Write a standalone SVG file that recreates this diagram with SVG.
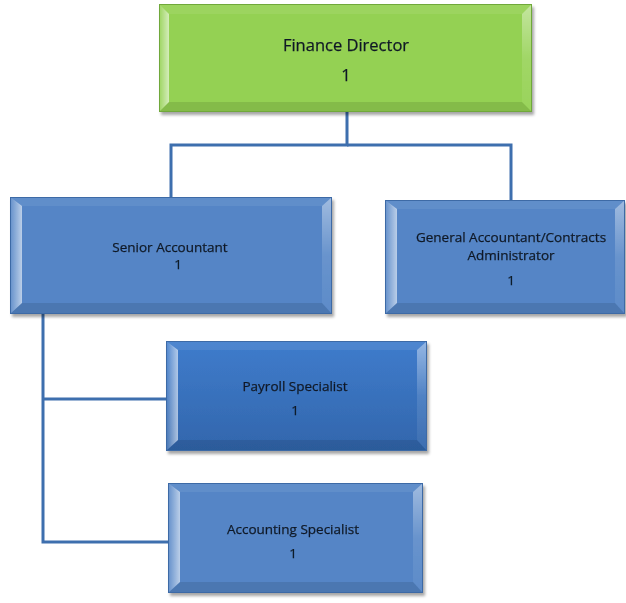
<svg xmlns="http://www.w3.org/2000/svg" width="626" height="603" viewBox="0 0 626 603">
  <defs>
    <filter id="shadow" x="-5%" y="-5%" width="115%" height="120%">
      <feDropShadow dx="2" dy="3" stdDeviation="1.6" flood-color="#000" flood-opacity="0.35"/>
    </filter>
    <linearGradient id="bevelLeft" x1="0" y1="0" x2="1" y2="0">
      <stop offset="0" stop-color="#fff" stop-opacity="0.08"/>
      <stop offset="1" stop-color="#fff" stop-opacity="0.6"/>
    </linearGradient>
    <linearGradient id="bevelRight" x1="0" y1="0" x2="0" y2="1">
      <stop offset="0" stop-color="#fff" stop-opacity="0.45"/>
      <stop offset="0.5" stop-color="#fff" stop-opacity="0.12"/>
      <stop offset="1" stop-color="#fff" stop-opacity="0.05"/>
    </linearGradient>
    <linearGradient id="payrollFill" x1="0" y1="0" x2="0" y2="1">
      <stop offset="0" stop-color="#3f7ccc"/>
      <stop offset="1" stop-color="#3266ac"/>
    </linearGradient>
  </defs>
  <style>
    .blue { fill: #5485c6; }
    .green { fill: #94d152; }
    .payroll { fill: url(#payrollFill); }
    .bt { fill: #fff; fill-opacity: 0.08; }
    .bl { fill: url(#bevelLeft); }
    .br { fill: url(#bevelRight); }
    .bb { fill: #000; fill-opacity: 0.1; }
    .edge { fill: none; stroke: #3d6aa6; stroke-width: 1; }
    .edgeG { fill: none; stroke: #6fa83a; stroke-width: 1; }
    .conn { fill: none; stroke: #3e6fae; stroke-width: 3; }
    text { font-family: "Open Sans", "Liberation Sans", sans-serif; fill: #111a27; stroke: #111a27; stroke-width: 0.25; text-anchor: middle; }
    .big { font-size: 16.5px; }
    .sm { font-size: 13.5px; }
  </style>

  <!-- connectors -->
  <g id="connectors">
    <polyline class="conn" points="347,112 347,145 171,145 171,198"/>
    <polyline class="conn" points="347,145 511,145 511,201"/>
    <polyline class="conn" points="43,314 43,542 168,542"/>
    <polyline class="conn" points="43,399 167,399"/>
  </g>

  <!-- Finance Director -->
  <g id="finance-director" filter="url(#shadow)">
    <rect class="green" x="159" y="4" width="373" height="108"/>
    <polygon class="bt" points="159,4 532,4 522,14 169,14"/>
    <polygon class="bl" points="159,4 169,14 169,102 159,112"/>
    <polygon class="br" points="532,4 532,112 522,102 522,14"/>
    <polygon class="bb" points="159,112 169,102 522,102 532,112"/>
    <rect class="edgeG" x="159.5" y="4.5" width="372" height="107"/>
    <text class="big" x="346" y="51">Finance Director</text>
    <text class="big" x="346" y="81">1</text>
  </g>

  <!-- Senior Accountant -->
  <g id="senior-accountant" filter="url(#shadow)">
    <rect class="blue" x="10" y="197" width="322" height="117"/>
    <polygon class="bt" points="10,197 332,197 322,206 20,206"/>
    <polygon class="bl" points="10,197 22,206 22,303 10,314"/>
    <polygon class="br" points="332,197 332,314 322,303 322,206"/>
    <polygon class="bb" points="10,314 22,303 322,303 332,314"/>
    <rect class="edge" x="10.5" y="197.5" width="321" height="116"/>
    <text class="sm" x="170" y="252">Senior Accountant</text>
    <text class="sm" x="178" y="269">1</text>
  </g>

  <!-- General Accountant/Contracts Administrator -->
  <g id="general-accountant" filter="url(#shadow)">
    <rect class="blue" x="385" y="200" width="240" height="114"/>
    <polygon class="bt" points="385,200 625,200 615,209 395,209"/>
    <polygon class="bl" points="385,200 397,209 397,303 385,314"/>
    <polygon class="br" points="625,200 625,314 615,303 615,209"/>
    <polygon class="bb" points="385,314 397,303 615,303 625,314"/>
    <rect class="edge" x="385.5" y="200.5" width="239" height="113"/>
    <text class="sm" x="511" y="242">General Accountant/Contracts</text>
    <text class="sm" x="511" y="260">Administrator</text>
    <text class="sm" x="511" y="285">1</text>
  </g>

  <!-- Payroll Specialist -->
  <g id="payroll-specialist" filter="url(#shadow)">
    <rect class="payroll" x="166" y="341" width="261" height="110"/>
    <polygon class="bt" points="166,341 427,341 417,350 176,350"/>
    <polygon class="bl" points="166,341 178,350 178,440 166,451"/>
    <polygon class="br" points="427,341 427,451 417,440 417,350"/>
    <polygon class="bb" points="166,451 178,440 417,440 427,451"/>
    <rect class="edge" x="166.5" y="341.5" width="260" height="109"/>
    <text class="sm" x="295" y="391">Payroll Specialist</text>
    <text class="sm" x="295" y="415">1</text>
  </g>

  <!-- Accounting Specialist -->
  <g id="accounting-specialist" filter="url(#shadow)">
    <rect class="blue" x="168" y="483" width="255" height="110"/>
    <polygon class="bt" points="168,483 423,483 413,492 178,492"/>
    <polygon class="bl" points="168,483 180,492 180,582 168,593"/>
    <polygon class="br" points="423,483 423,593 413,582 413,492"/>
    <polygon class="bb" points="168,593 180,582 413,582 423,593"/>
    <rect class="edge" x="168.5" y="483.5" width="254" height="109"/>
    <text class="sm" x="293" y="534">Accounting Specialist</text>
    <text class="sm" x="293" y="558">1</text>
  </g>
</svg>
